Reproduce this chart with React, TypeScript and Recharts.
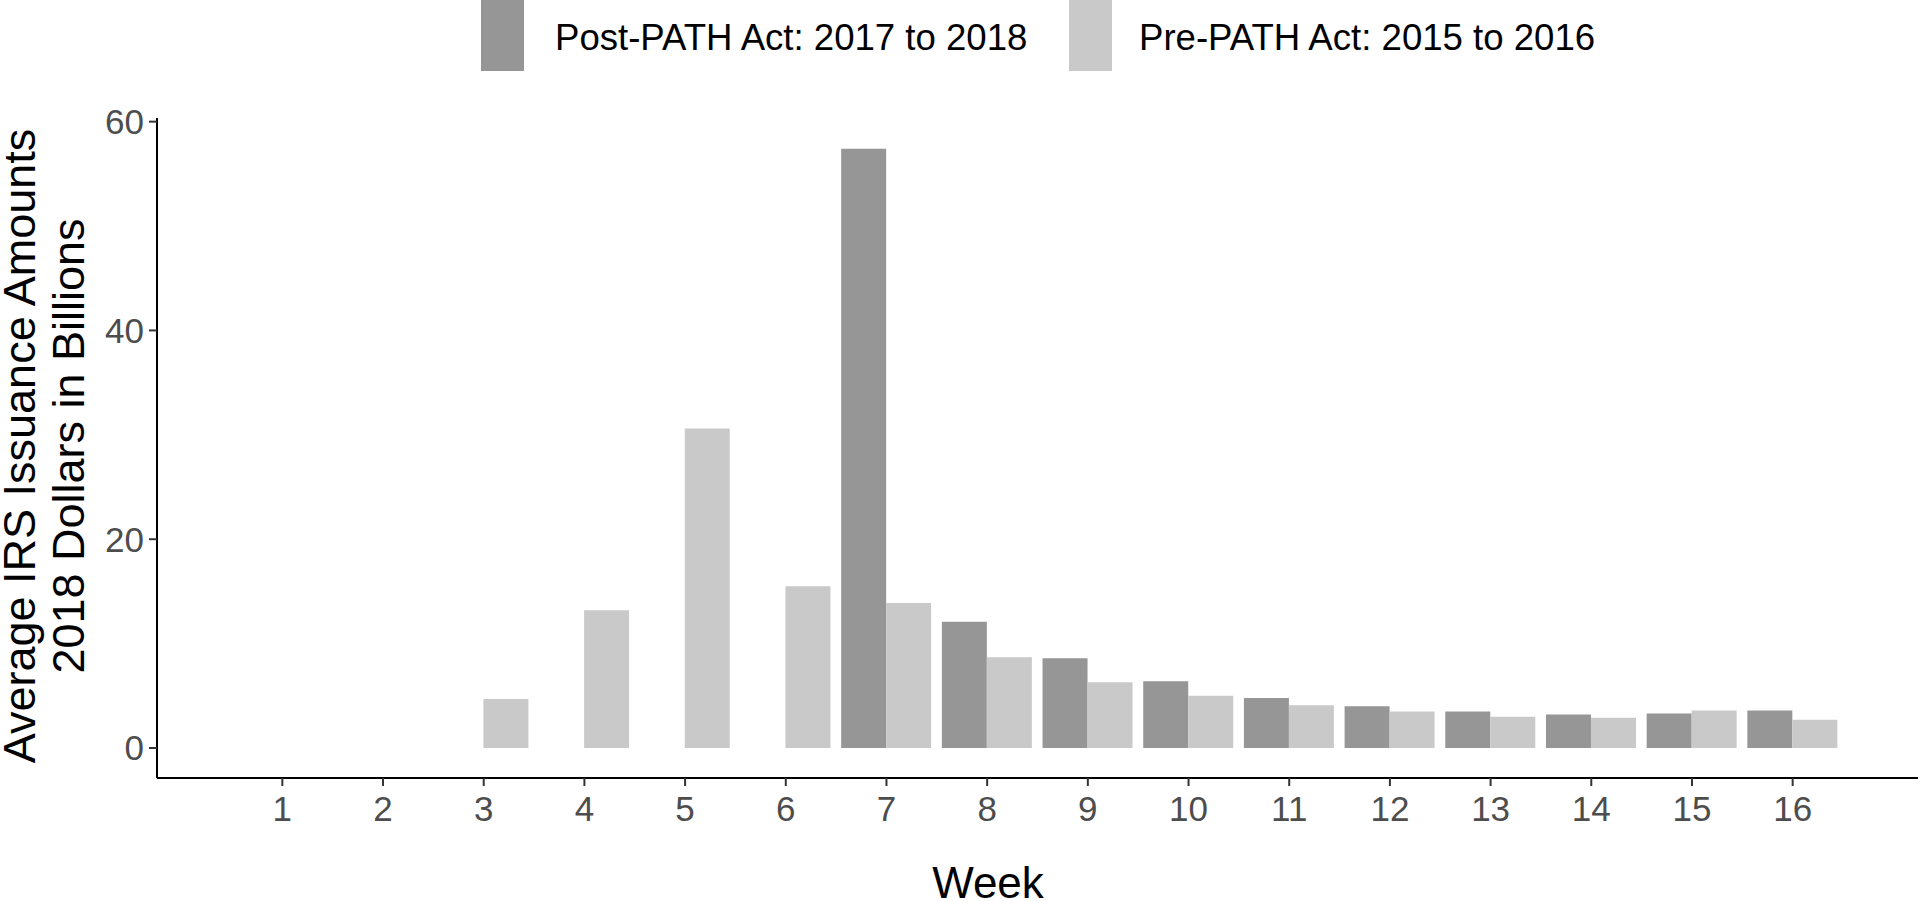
import React from "react";
import { Bar, BarChart, XAxis, YAxis } from "recharts";

const weeks = ["1", "2", "3", "4", "5", "6", "7", "8", "9", "10", "11", "12", "13", "14", "15", "16"];
const postPath = [null, null, null, null, null, null, 57.4, 12.1, 8.6, 6.4, 4.8, 4.0, 3.5, 3.2, 3.3, 3.6];
const prePath = [null, null, 4.7, 13.2, 30.6, 15.5, 13.9, 8.7, 6.3, 5.0, 4.1, 3.5, 3.0, 2.9, 3.6, 2.7];
const yTicks = [0, 20, 40, 60];

const DARK = "#969696";
const LIGHT = "#c9c9c9";

const data = weeks.map((w, i) => ({ week: w, post: postPath[i], pre: prePath[i] }));

const yTitle = () => (
  <g>
    <text
      x={35}
      y={446}
      transform="rotate(-90, 35, 446)"
      textAnchor="middle"
      fontSize={45}
      fill="#000"
    >
      Average IRS Issuance Amounts
    </text>
    <text
      x={84}
      y={446}
      transform="rotate(-90, 84, 446)"
      textAnchor="middle"
      fontSize={45}
      fill="#000"
    >
      2018 Dollars in Billions
    </text>
  </g>
);

const xTitle = () => (
  <text x={988} y={898} textAnchor="middle" fontSize={44} fill="#000">
    Week
  </text>
);

function LegendOverlay() {
  return (
    <svg
      width={1920}
      height={90}
      style={{ position: "absolute", left: 0, top: 0, fontFamily: "Liberation Sans, Arial, sans-serif" }}
    >
      <rect x={481} y={0} width={43} height={71} fill={DARK} />
      <text x={555} y={50} fontSize={36.6}>
        Post-PATH Act: 2017 to 2018
      </text>
      <rect x={1069} y={0} width={43} height={71} fill={LIGHT} />
      <text x={1139} y={50} fontSize={36.6}>
        Pre-PATH Act: 2015 to 2016
      </text>
    </svg>
  );
}

export default function App() {
  return (
    <div
      style={{
        position: "absolute",
        left: 0,
        top: 0,
        width: 1920,
        height: 901,
        background: "#fff",
        fontFamily: "Liberation Sans, Arial, sans-serif",
      }}
    >
      <BarChart
        width={1920}
        height={901}
        data={data}
        margin={{ top: 118, right: 2, bottom: 63, left: 97 }}
        barCategoryGap="5%"
        barGap={0}
      >
        <XAxis
          dataKey="week"
          padding={{ left: 75, right: 75 }}
          axisLine={{ stroke: "#000", strokeWidth: 2 }}
          tickLine={{ stroke: "#333", strokeWidth: 2 }}
          tickSize={8}
          tickMargin={10}
          tick={{ fontSize: 35, fill: "#4d4d4d" }}
          interval={0}
          height={60}
          label={xTitle}
        />
        <YAxis
          domain={[-2.875, 60.35]}
          ticks={yTicks}
          allowDataOverflow
          width={60}
          axisLine={{ stroke: "#000", strokeWidth: 2 }}
          tickLine={{ stroke: "#333", strokeWidth: 2 }}
          tickSize={8}
          tickMargin={5}
          tick={{ fontSize: 35, fill: "#4d4d4d" }}
          label={yTitle}
        />
        <Bar dataKey="post" fill={DARK} isAnimationActive={false} />
        <Bar dataKey="pre" fill={LIGHT} isAnimationActive={false} />
      </BarChart>
      <LegendOverlay />
    </div>
  );
}
